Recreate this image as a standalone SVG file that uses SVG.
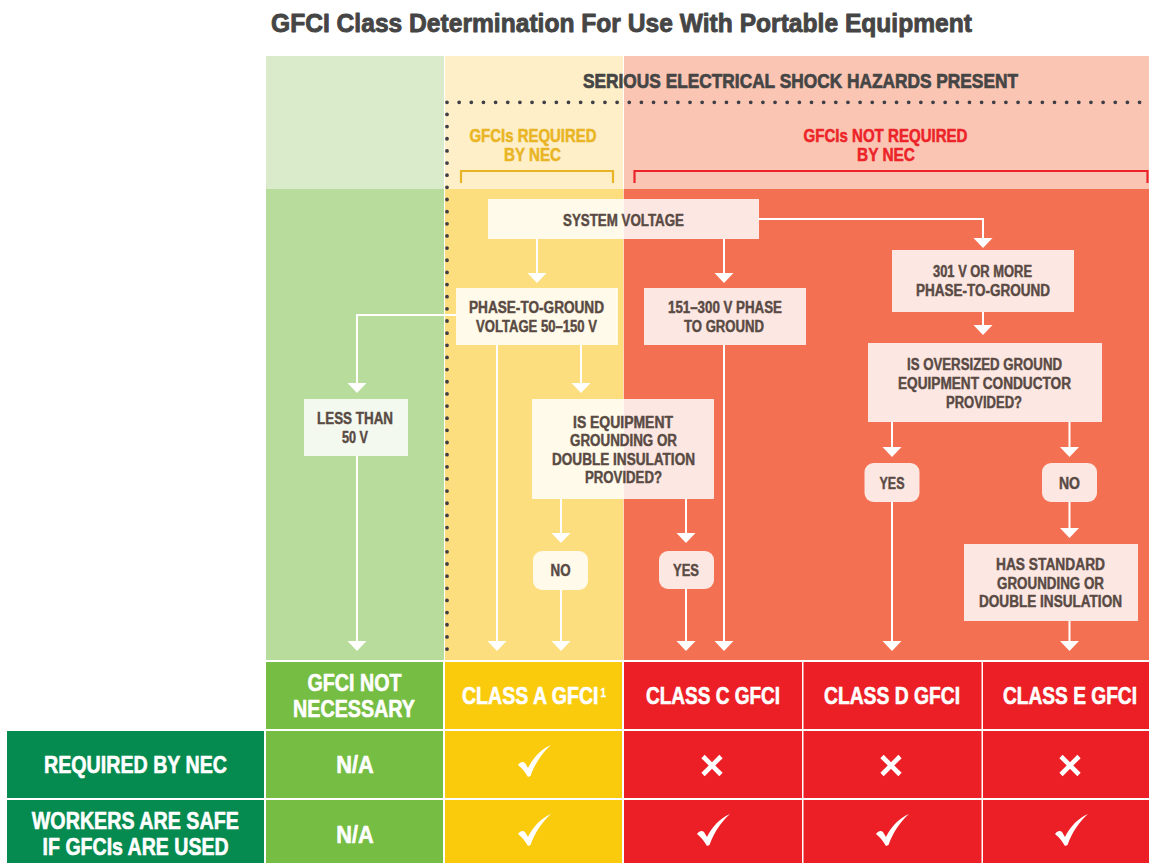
<svg xmlns="http://www.w3.org/2000/svg" xmlns:xlink="http://www.w3.org/1999/xlink" width="1149" height="863" viewBox="0 0 1149 863">
<style>
text{font-family:'Liberation Sans',Arial,sans-serif;font-weight:bold;text-anchor:middle;stroke-linejoin:round}
.title{font-size:26.5px;fill:#454545;stroke:#454545;stroke-width:0.9;text-anchor:start}
.hz{font-size:20.5px;fill:#454545;stroke:#454545;stroke-width:0.7}
.yl{font-size:17.5px;fill:#E9B524;stroke:#E9B524;stroke-width:0.5}
.rl{font-size:17.5px;fill:#EC2328;stroke:#EC2328;stroke-width:0.5}
.n{font-size:16px;fill:#594A44;stroke:#594A44;stroke-width:0.45}
.box{fill:#ffffff;fill-opacity:0.83}
.th{font-size:23.5px;fill:#ffffff;stroke:#ffffff;stroke-width:0.6}
.tr{font-size:24px;fill:#ffffff;stroke:#ffffff;stroke-width:0.6}
.c{stroke:#ffffff;stroke-width:2;fill:none}
.dots{stroke:#3F3E46;stroke-width:3.8;stroke-linecap:round;stroke-dasharray:0 12.15;fill:none}
</style>
<defs>
<polygon id="ah" points="-9.5,0 9.5,0 0,10" fill="#ffffff"/>
<path id="chk" d="M0,20 C2,17 5,16 7,18 L10,23 C15,13 23,4 33,0 C25,7 17,18 12.5,31 L10,32 C7,27 4,23 0,20 Z" fill="#ffffff"/>
<g id="xm" stroke="#ffffff" stroke-width="4.6"><line x1="-9" y1="-9" x2="9" y2="9"/><line x1="-9" y1="9" x2="9" y2="-9"/></g>
</defs>
<rect width="1149" height="863" fill="#ffffff"/>
<text class="title" x="271" y="32.3" textLength="701" lengthAdjust="spacingAndGlyphs">GFCI Class Determination For Use With Portable Equipment</text>

<!-- background bands -->
<g id="bands">
<rect x="266" y="56" width="178" height="133" fill="#DAEBCB"/>
<rect x="445" y="56" width="178" height="133" fill="#FEEFC8"/>
<rect x="624" y="56" width="525" height="133" fill="#FAC6B3"/>
<rect x="266" y="189" width="178" height="471" fill="#B8DC9B"/>
<rect x="445" y="189" width="178.3" height="471" fill="#FDDE7E"/>
<rect x="623.8" y="189" width="525.2" height="471" fill="#F37052"/>
</g>

<g id="hazard-labels">
<text class="hz" x="800.5" y="88.3" textLength="435" lengthAdjust="spacingAndGlyphs">SERIOUS ELECTRICAL SHOCK HAZARDS PRESENT</text>
<path class="dots" d="M447,102.3 H1149 M447,102.3 V660"/>
<text class="yl" x="533" y="141.7" textLength="127" lengthAdjust="spacingAndGlyphs">GFCIs REQUIRED</text>
<text class="yl" x="532.5" y="160.7" textLength="57" lengthAdjust="spacingAndGlyphs">BY NEC</text>
<text class="rl" x="885.5" y="141.7" textLength="164" lengthAdjust="spacingAndGlyphs">GFCIs NOT REQUIRED</text>
<text class="rl" x="886" y="160.7" textLength="58" lengthAdjust="spacingAndGlyphs">BY NEC</text>
<path d="M461,183 V171 H613 V183" stroke="#E9B524" stroke-width="2.2" fill="none"/>
<path d="M634.5,183 V171 H1147.5 V183" stroke="#EC2328" stroke-width="2.2" fill="none"/>
</g>

<!-- connectors -->
<g id="connectors">
<path class="c" d="M537,239 V274"/><use xlink:href="#ah" x="537" y="273"/>
<path class="c" d="M724,239 V274"/><use xlink:href="#ah" x="724" y="273"/>
<path class="c" d="M758,219 H983 V239"/><use xlink:href="#ah" x="983" y="238"/>
<path class="c" d="M983,312 V326"/><use xlink:href="#ah" x="983" y="325"/>
<path class="c" d="M456,315 H357 V384"/><use xlink:href="#ah" x="357" y="383"/>
<path class="c" d="M497,345 V642"/><use xlink:href="#ah" x="497" y="641"/>
<path class="c" d="M581,345 V384"/><use xlink:href="#ah" x="581" y="383"/>
<path class="c" d="M561,499 V534"/><use xlink:href="#ah" x="561" y="533"/>
<path class="c" d="M561,590 V642"/><use xlink:href="#ah" x="561" y="641"/>
<path class="c" d="M686,499 V534"/><use xlink:href="#ah" x="686" y="533"/>
<path class="c" d="M686,589 V642"/><use xlink:href="#ah" x="686" y="641"/>
<path class="c" d="M724,345 V642"/><use xlink:href="#ah" x="724" y="641"/>
<path class="c" d="M357,456 V642"/><use xlink:href="#ah" x="357" y="641"/>
<path class="c" d="M892,422 V448"/><use xlink:href="#ah" x="892" y="447"/>
<path class="c" d="M892,502 V642"/><use xlink:href="#ah" x="892" y="641"/>
<path class="c" d="M1069.5,422 V448"/><use xlink:href="#ah" x="1069.5" y="447"/>
<path class="c" d="M1069.5,502 V529"/><use xlink:href="#ah" x="1069.5" y="528"/>
<path class="c" d="M1069.5,621 V642"/><use xlink:href="#ah" x="1069.5" y="641"/>
</g>

<!-- nodes -->
<g id="n-system">
<rect class="box" x="488" y="199" width="271" height="40"/>
<text class="n" x="623.5" y="225.5" textLength="121" lengthAdjust="spacingAndGlyphs">SYSTEM VOLTAGE</text>
</g>
<g id="n-50-150">
<rect class="box" x="456" y="288" width="162" height="57"/>
<text class="n" x="536.5" y="313.3" textLength="135" lengthAdjust="spacingAndGlyphs">PHASE-TO-GROUND</text>
<text class="n" x="536.5" y="331.7" textLength="121" lengthAdjust="spacingAndGlyphs">VOLTAGE 50–150 V</text>
</g>
<g id="n-151-300">
<rect class="box" x="644" y="288" width="162" height="57"/>
<text class="n" x="725" y="313.3" textLength="114" lengthAdjust="spacingAndGlyphs">151–300 V PHASE</text>
<text class="n" x="724" y="331.7" textLength="80" lengthAdjust="spacingAndGlyphs">TO GROUND</text>
</g>
<g id="n-301">
<rect class="box" x="892" y="250" width="182" height="62"/>
<text class="n" x="982.5" y="277" textLength="99" lengthAdjust="spacingAndGlyphs">301 V OR MORE</text>
<text class="n" x="983" y="296" textLength="134" lengthAdjust="spacingAndGlyphs">PHASE-TO-GROUND</text>
</g>
<g id="n-oversized">
<rect class="box" x="868" y="343" width="234" height="79"/>
<text class="n" x="984.5" y="370" textLength="155" lengthAdjust="spacingAndGlyphs">IS OVERSIZED GROUND</text>
<text class="n" x="984.5" y="389" textLength="173" lengthAdjust="spacingAndGlyphs">EQUIPMENT CONDUCTOR</text>
<text class="n" x="984" y="408" textLength="76" lengthAdjust="spacingAndGlyphs">PROVIDED?</text>
</g>
<g id="n-less50">
<rect class="box" x="304" y="399" width="104" height="57"/>
<text class="n" x="355" y="424" textLength="76" lengthAdjust="spacingAndGlyphs">LESS THAN</text>
<text class="n" x="355" y="443" textLength="26" lengthAdjust="spacingAndGlyphs">50 V</text>
</g>
<g id="n-equip">
<rect class="box" x="532" y="399" width="182" height="100"/>
<text class="n" x="623" y="428" textLength="100" lengthAdjust="spacingAndGlyphs">IS EQUIPMENT</text>
<text class="n" x="623.5" y="446.3" textLength="107" lengthAdjust="spacingAndGlyphs">GROUNDING OR</text>
<text class="n" x="623.5" y="464.6" textLength="143" lengthAdjust="spacingAndGlyphs">DOUBLE INSULATION</text>
<text class="n" x="623.5" y="483" textLength="77" lengthAdjust="spacingAndGlyphs">PROVIDED?</text>
</g>
<g id="n-no-a">
<rect class="box" x="533" y="551" width="55" height="39" rx="9"/>
<text class="n" x="560.5" y="576" textLength="20" lengthAdjust="spacingAndGlyphs">NO</text>
</g>
<g id="n-yes-c">
<rect class="box" x="659" y="551" width="55" height="38" rx="9"/>
<text class="n" x="686" y="576" textLength="26" lengthAdjust="spacingAndGlyphs">YES</text>
</g>
<g id="n-yes-d">
<rect class="box" x="864.5" y="463" width="55" height="39" rx="9"/>
<text class="n" x="892" y="489" textLength="25" lengthAdjust="spacingAndGlyphs">YES</text>
</g>
<g id="n-no-e">
<rect class="box" x="1042" y="463" width="55" height="39" rx="9"/>
<text class="n" x="1069.5" y="489" textLength="21" lengthAdjust="spacingAndGlyphs">NO</text>
</g>
<g id="n-standard">
<rect class="box" x="964" y="544" width="174" height="77"/>
<text class="n" x="1050.5" y="570" textLength="109" lengthAdjust="spacingAndGlyphs">HAS STANDARD</text>
<text class="n" x="1050.5" y="588.5" textLength="107" lengthAdjust="spacingAndGlyphs">GROUNDING OR</text>
<text class="n" x="1050.5" y="607" textLength="143" lengthAdjust="spacingAndGlyphs">DOUBLE INSULATION</text>
</g>

<!-- table -->
<g id="table">
<rect x="266" y="662" width="177" height="67" fill="#76BD43"/>
<rect x="445" y="662" width="177" height="67" fill="#F9CB0C"/>
<rect x="624" y="662" width="178" height="67" fill="#EC1F26"/>
<rect x="803.5" y="662" width="178" height="67" fill="#EC1F26"/>
<rect x="983" y="662" width="166" height="67" fill="#EC1F26"/>

<rect x="7" y="731" width="257" height="67" fill="#058A4F"/>
<rect x="266" y="731" width="177" height="67" fill="#76BD43"/>
<rect x="445" y="731" width="177" height="67" fill="#F9CB0C"/>
<rect x="624" y="731" width="178" height="67" fill="#EC1F26"/>
<rect x="803.5" y="731" width="178" height="67" fill="#EC1F26"/>
<rect x="983" y="731" width="166" height="67" fill="#EC1F26"/>

<rect x="7" y="800" width="257" height="63" fill="#058A4F"/>
<rect x="266" y="800" width="177" height="63" fill="#76BD43"/>
<rect x="445" y="800" width="177" height="63" fill="#F9CB0C"/>
<rect x="624" y="800" width="178" height="63" fill="#EC1F26"/>
<rect x="803.5" y="800" width="178" height="63" fill="#EC1F26"/>
<rect x="983" y="800" width="166" height="63" fill="#EC1F26"/>

<text class="th" x="354.5" y="691" textLength="94" lengthAdjust="spacingAndGlyphs">GFCI NOT</text>
<text class="th" x="354" y="716.5" textLength="122" lengthAdjust="spacingAndGlyphs">NECESSARY</text>
<text class="th" transform="translate(462,703.5) scale(0.832,1)" x="0" y="0" style="text-anchor:start">CLASS A GFCI<tspan dx="2.5" dy="-6.5" style="font-size:12px;stroke-width:0.3">1</tspan></text>
<text class="th" x="713" y="703.5" textLength="134" lengthAdjust="spacingAndGlyphs">CLASS C GFCI</text>
<text class="th" x="892" y="703.5" textLength="136" lengthAdjust="spacingAndGlyphs">CLASS D GFCI</text>
<text class="th" transform="translate(1070,703.5) scale(0.815,1)" x="0" y="0">CLASS E GFCI</text>

<text class="tr" x="135.5" y="773" textLength="183" lengthAdjust="spacingAndGlyphs">REQUIRED BY NEC</text>
<text class="tr" x="355" y="773" textLength="37.5" lengthAdjust="spacingAndGlyphs">N/A</text>
<text class="th" x="135.3" y="828.5" textLength="207" lengthAdjust="spacingAndGlyphs">WORKERS ARE SAFE</text>
<text class="th" x="135.6" y="855" textLength="186" lengthAdjust="spacingAndGlyphs">IF GFCIs ARE USED</text>
<text class="tr" x="355" y="843" textLength="37.5" lengthAdjust="spacingAndGlyphs">N/A</text>

<use xlink:href="#chk" x="518" y="745"/>
<use xlink:href="#chk" x="518" y="814"/>
<use xlink:href="#chk" x="697" y="814"/>
<use xlink:href="#chk" x="876" y="814"/>
<use xlink:href="#chk" x="1055" y="814"/>
<use xlink:href="#xm" x="712" y="765.5"/>
<use xlink:href="#xm" x="891" y="765.5"/>
<use xlink:href="#xm" x="1070" y="765.5"/>
</g>
</svg>
